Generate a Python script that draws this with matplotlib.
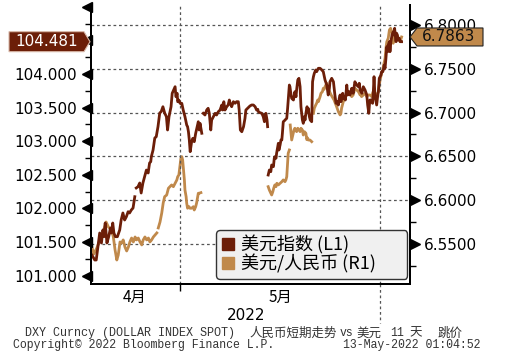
import numpy as np
import matplotlib
matplotlib.use("Agg")
import matplotlib.pyplot as plt
import matplotlib.transforms as mtransforms
from matplotlib.patches import Polygon
from matplotlib.lines import Line2D

nan = np.nan

# 美元指数 (DXY), x = 交易日位置
dxy_day = [0.03, 0.13, 0.18, 0.24, 0.30, 0.36, 0.41, 0.45, 0.49, 0.55, 0.61, 0.67, 0.70, 0.75, 0.79,
           0.84, 0.91, 0.99, 1.04, 1.10, 1.16, 1.22, 1.28, 1.33, 1.39, 1.45, 1.51, 1.53,
           1.56, 1.62, 1.68, 1.73, 1.79, 1.85, 1.91, 1.97, 2.02, 2.06, 2.08, 2.14, 2.20, 2.25, 2.31,
           2.37, 2.42, 2.48, 2.54, 2.60, 2.64, 2.69, 2.76, 2.80, 2.85, 2.90, 2.93, 2.97, 2.99, 3.03,
           3.07, 3.13, 3.18, 3.24, 3.30, 3.33, 3.36, 3.39, 3.42, 3.47, 3.51, 3.56, 3.61, 3.66, 3.70,
           3.73, 3.76, 3.79, 3.82, 3.84,
           3.87, 3.93, 3.99, 4.04, 4.08, 4.13, 4.16, 4.22, 4.28, 4.33, 4.39, 4.45, 4.51, 4.54, 4.58,
           4.62, 4.68, 4.73, 4.77, 4.80, 4.85, 4.91, 4.97, 5.02, 5.08, 5.11, 5.15, 5.20, 5.26, 5.29,
           5.31, 5.34, 5.40, 5.48, 5.54, 5.60, 5.66, 5.71, 5.75, 5.77, 5.83, 5.89, 5.94, 5.98, 6.00,
           6.03, 6.07, 6.09, 6.10,
           6.11, 6.15, 6.20, 6.23, 6.29, 6.32, 6.34, 6.38, 6.40, 6.44, 6.46, 6.48, 6.52, 6.55, 6.58,
           6.60, 6.63, 6.67, 6.69, 6.75, 6.78, 6.80, 6.84, 6.86, 6.89, 6.92, 6.98, 7.01, 7.03, 7.07,
           7.09, 7.13, 7.17, 7.21, 7.24, 7.29, 7.32, 7.36, 7.38, 7.41, 7.45, 7.47, 7.49, 7.53, 7.56,
           7.61, 7.64, 7.67, 7.70, 7.75, 7.78, 7.84, 7.90, 7.96, 8.01, 8.07, 8.13, 8.18, 8.22, 8.24,
           8.30, 8.36, 8.41, 8.45, 8.49, 8.53, 8.56, 8.59, 8.62, 8.64, 8.68, 8.70, 8.73, 8.77, 8.82,
           8.85, 8.89, 8.93, 8.99, 9.04, 9.10, 9.16, 9.22, 9.25, 9.28, 9.31, 9.34, 9.39, 9.45, 9.51,
           9.54, 9.58, 9.60, 9.62, 9.66, 9.69, 9.71, 9.73, 9.76, 9.79, 9.83, 9.85, 9.89, 9.91, 9.94,
           9.97, 10.00, 10.02, 10.06, 10.08, 10.11, 10.14, 10.17, 10.20, 10.23, 10.25, 10.29, 10.31,
           10.34, 10.38, 10.42, 10.45, 10.47, 10.49, 10.52, 10.54, 10.56, 10.60, 10.63, 10.66, 10.71]
dxy_val = [101.307, 101.232, 101.232, 101.430, 101.634, 101.485, 101.679, 101.579, 101.783, 101.485,
           101.579, 101.708, 101.634, 101.783, 101.634, 101.579, 101.579, 101.679, 101.827, 101.932,
           101.827, 101.877, 101.951, 101.932, 101.976, 102.006, 102.174, nan,
           102.304, 102.323, 102.378, 102.229, 102.378, 102.472, 102.571, 102.527, 102.676, 102.695,
           102.769, 102.869, 103.048, 103.067, 103.216, 103.420, 103.439, 103.513, 103.420, 103.365,
           103.167, 103.365, 103.513, 103.713, 103.762, 103.811, 103.662, 103.713, 103.588, 103.613,
           103.564, 103.564, 103.464, 103.365, 103.241, 103.216, 103.141, 103.018, 102.844, 102.993,
           103.043, 102.993, 103.118, 103.216, 103.290, 103.167, 103.266, 103.192, 103.118, nan,
           103.415, 103.390, 103.464, 103.490, 103.415, 103.167, 103.315, 103.365, 103.415, 103.390,
           103.439, 103.464, 103.539, 103.464, 103.588, 103.464, 103.513, 103.539, 103.613, 103.564,
           103.513, 103.588, 103.564, 103.588, 103.588, 103.464, 103.167, 103.141, 103.216, 103.290,
           103.341, 103.464, 103.490, 103.524, 103.539, 103.539, 103.513, 103.464, 103.475, 103.439,
           103.424, 103.415, 103.365, 103.290, 103.390, 103.415, 103.315, 103.216, nan,
           102.497, 102.571, 102.546, 102.646, 102.621, 102.746, 102.769, 102.746, 102.820, 102.918,
           102.969, 102.869, 102.943, 103.018, 103.018, 103.118, 103.290, 103.305, 103.315, 103.341,
           103.490, 103.613, 103.836, 103.811, 103.713, 103.638, 103.613, 103.688, 103.737, 103.662,
           103.762, 103.911, 103.936, 103.811, 103.513, 103.315, 103.266, 103.365, 103.315, 103.415,
           103.513, 103.439, 103.490, 103.365, 103.315, 103.290, 103.885, 103.960, 104.010, 104.060,
           104.034, 104.085, 104.085, 104.060, 104.034, 103.911, 103.836, 103.688, 103.787, 103.885,
           103.936, 103.885, 103.688, 103.564, 103.588, 103.539, 103.638, 103.688, 103.588, 103.638,
           103.713, 103.638, 103.662, 103.613, 103.836, 103.688, 103.737, 103.688, 103.787, 103.713,
           103.885, 103.836, 103.811, 103.862, 103.762, 103.737, 103.713, 103.811, 103.762, 103.688,
           103.539, 103.415, 103.539, 103.613, 103.613, 103.588, 103.564, 103.688, 103.960, 103.688,
           103.588, 103.539, 103.688, 103.737, 103.936, 103.960, 103.985, 104.034, 104.034, 104.060,
           104.134, 104.085, 104.234, 104.406, 104.332, 104.432, 104.481, 104.332, 104.481, 104.580,
           104.629, 104.580, 104.680, 104.580, 104.481, 104.606, 104.580, 104.506, 104.531, 104.481,
           104.481]

# 美元/人民币 (USDCNY)
cny_day = [0.02, 0.10, 0.20, 0.31, 0.42, 0.52, 0.60, 0.71, 0.77, 0.83, 0.89, 0.94, 1.00, 1.06, 1.11,
           1.17, 1.23, 1.29, 1.34, 1.40, 1.46, 1.52, 1.57, 1.63, 1.69, 1.75, 1.80, 1.86, 1.92, 1.98,
           2.03, 2.09, 2.15, 2.21, 2.27, 2.30,
           2.32, 2.38, 2.44, 2.49, 2.54, 2.61, 2.67, 2.72, 2.78, 2.84, 2.90, 2.96, 2.99, 3.03, 3.07,
           3.10, 3.13, 3.16, 3.18, 3.22, 3.24, 3.28, 3.30, 3.33, 3.38, 3.41, 3.47, 3.53, 3.56, 3.61,
           3.64, 3.68, 3.70, 3.73, 3.79, 3.80,
           6.11, 6.15, 6.20, 6.23, 6.27, 6.30, 6.34, 6.38, 6.41, 6.46, 6.52, 6.58, 6.63, 6.69, 6.72,
           6.75, 6.77, 6.80, 6.84, 6.85,
           6.87, 6.92, 6.96, 7.00, 7.03, 7.09, 7.13, 7.17, 7.21, 7.24, 7.29, 7.32, 7.36, 7.41, 7.44,
           7.47, 7.49, 7.55, 7.61, 7.64,
           7.67, 7.70, 7.75, 7.78, 7.82, 7.84, 7.90, 7.93, 7.98, 8.01, 8.04, 8.07, 8.13, 8.17, 8.28,
           8.38, 8.47, 8.53, 8.59, 8.62, 8.64, 8.70, 8.76, 8.82, 8.87, 8.93, 8.99, 9.04, 9.10, 9.16,
           9.22, 9.28, 9.31, 9.33, 9.39, 9.45, 9.51, 9.56, 9.62, 9.68, 9.73, 9.79, 9.85, 9.91, 9.94,
           9.97, 10.02, 10.06, 10.08, 10.14, 10.17, 10.20, 10.25, 10.29, 10.33, 10.37, 10.40, 10.42,
           10.45, 10.48, 10.52, 10.56, 10.60, 10.66, 10.71]
cny_val = [6.5477, 6.5386, 6.5454, 6.5546, 6.5637, 6.5751, 6.5694, 6.5660, 6.5580, 6.5432, 6.5317,
           6.5374, 6.5523, 6.5511, 6.5546, 6.5466, 6.5420, 6.5466, 6.5523, 6.5568, 6.5523, 6.5580,
           6.5546, 6.5568, 6.5523, 6.5489, 6.5546, 6.5580, 6.5546, 6.5568, 6.5523, 6.5546, 6.5580,
           6.5603, 6.5626, nan,
           6.5683, 6.5751, 6.5854, 6.5968, 6.6040, 6.6059, 6.6136, 6.6154, 6.6174, 6.6154, 6.6193,
           6.6231, 6.6268, 6.6288, 6.6402, 6.6478, 6.6497, 6.6459, 6.6382, 6.6231, 6.6116, 6.6040,
           6.5965, 6.5908, 6.5926, 6.5908, 6.5908, 6.5926, 6.5888, 6.5926, 6.5965, 6.6040, 6.6079,
           6.6079, 6.6086, nan,
           6.6154, 6.6116, 6.6079, 6.6059, 6.6097, 6.6136, 6.6174, 6.6154, 6.6193, 6.6174, 6.6193,
           6.6211, 6.6231, 6.6211, 6.6231, 6.6268, 6.6382, 6.6535, 6.6573, nan,
           6.6858, 6.6687, 6.6744, 6.6801, 6.6821, 6.6782, 6.6821, 6.6801, 6.6782, 6.6821, 6.6801,
           6.6744, 6.6782, 6.6764, 6.6692, 6.6710, 6.6687, 6.6687, 6.6668, nan,
           6.6992, 6.7049, 6.7087, 6.7106, 6.7144, 6.7124, 6.7182, 6.7220, 6.7239, 6.7277, 6.7266,
           6.7296, 6.7334, 6.7281, 6.7201, 6.7144, 6.7067, 6.7010, 6.6973, 6.6992, 6.7049, 6.7124,
           6.7182, 6.7201, 6.7239, 6.7220, 6.7182, 6.7201, 6.7277, 6.7258, 6.7239, 6.7201, 6.7220,
           6.7182, 6.7201, 6.7220, 6.7182, 6.7201, 6.7201, 6.7182, 6.7239, 6.7163, 6.7201, 6.7239,
           6.7315, 6.7372, 6.7449, 6.7486, 6.7524, 6.7620, 6.7734, 6.7809, 6.7848, 6.7943, 6.7962,
           6.7924, 6.7848, 6.7791, 6.7886, 6.7924, 6.7866, 6.7886, 6.7848, 6.7809, 6.7863]

dxy_last = 104.481
cny_last = 6.7863

left_ticks = [101.0, 101.5, 102.0, 102.5, 103.0, 103.5, 104.0, 104.5, 105.0]
left_labels = ["101.000", "101.500", "102.000", "102.500", "103.000", "103.500", "104.000", "104.500", ""]
left_minor = [101.25, 101.75, 102.25, 102.75, 103.25, 103.75, 104.25, 104.75]
right_ticks = [6.55, 6.60, 6.65, 6.70, 6.75, 6.80]
right_labels = ["6.5500", "6.6000", "6.6500", "6.7000", "6.7500", "6.8000"]
right_minor = [6.525, 6.575, 6.625, 6.675, 6.725, 6.775]
month_pos = [1.52, 6.52]
month_labels = ["4月", "5月"]
divider_pos = [3.07, 9.97]

DARK = "#6c1e08"
LIGHT = "#c0894b"
CJK = ["Noto Sans CJK SC", "DejaVu Sans"]

W, H = 506, 360
fig = plt.figure(figsize=(W / 100, H / 100), dpi=100)
ax = fig.add_axes([91 / W, 1 - 284 / H, 319 / W, 279 / H])
ax2 = ax.twinx()
ax.set_zorder(ax2.get_zorder() + 1)
ax.patch.set_visible(False)

ax.set_xlim(0, 11)
ax.set_ylim(100.875, 105.027)
ax2.set_ylim(6.5043, 6.8228)

# 网格
for v in right_ticks:
    ax2.axhline(v, color="#555555", lw=0.9, ls=(0, (2.2, 2.2)), zorder=0)
for d in divider_pos:
    ax.axvline(d, color="#555555", lw=0.9, ls=(0, (2.2, 2.2)), zorder=0)

ax2.plot(cny_day, cny_val, color=LIGHT, lw=2.0, solid_joinstyle="round")
ax.plot(dxy_day, dxy_val, color=DARK, lw=2.0, solid_joinstyle="round")

# 坐标轴
for a in (ax, ax2):
    a.spines["top"].set_visible(False)
    for s in ("left", "right", "bottom"):
        a.spines[s].set_linewidth(1.4)
        a.spines[s].set_color("black")

ax.set_yticks(left_ticks)
ax.set_yticklabels(left_labels)
ax.set_yticks(left_minor, minor=True)
ax.tick_params(axis="y", which="major", length=0, pad=10, labelsize=11)
ax.tick_params(axis="y", which="minor", length=4, width=1, direction="out")
ax2.set_yticks(right_ticks)
ax2.set_yticklabels(right_labels)
ax2.set_yticks(right_minor, minor=True)
ax2.tick_params(axis="y", which="major", length=0, pad=10, labelsize=11)
ax2.tick_params(axis="y", which="minor", length=4, width=1, direction="out")
ax.set_xticks([divider_pos[0]])
ax.set_xticklabels([""])
ax.tick_params(axis="x", length=5, width=1)

# 三角形主刻度
ax.plot(np.full(len(left_ticks), -0.014), left_ticks, transform=ax.get_yaxis_transform(),
        ls="none", marker="<", ms=7, color="black", clip_on=False)
ax2.plot(np.full(len(right_ticks), 1.016), right_ticks, transform=ax2.get_yaxis_transform(),
         ls="none", marker=">", ms=7, color="black", clip_on=False)

# 月份与年份
bt = mtransforms.blended_transform_factory(ax.transData, ax.transAxes)
for p, lab in zip(month_pos, month_labels):
    ax.text(p, -0.047, lab, transform=bt, ha="center", va="center", fontsize=11, family=CJK)
ax.text(0.485, -0.112, "2022", transform=ax.transAxes, ha="center", va="center", fontsize=11)
ax.plot([divider_pos[1], divider_pos[1]], [0, -0.14], transform=bt, color="#555555",
        lw=0.9, ls=(0, (2.2, 2.2)), clip_on=False)

# 图例
handles = [Line2D([], [], ls="none", marker="s", ms=9, color=DARK),
           Line2D([], [], ls="none", marker="s", ms=9, color=LIGHT)]
leg = ax.legend(handles, ["美元指数 (L1)", "美元/人民币 (R1)"], loc="lower left",
                bbox_to_anchor=(0.392, 0.018, 0.599, 0.19), mode="expand",
                prop={"family": CJK, "size": 13}, handlelength=0.7, handletextpad=0.4,
                labelspacing=0.0, borderpad=0.3, borderaxespad=0, fancybox=True, framealpha=1)
leg.get_frame().set_facecolor("#f0f0f0")
leg.get_frame().set_edgecolor("#333333")
leg.get_frame().set_linewidth(1.0)

# 最新值标签
fig.canvas.draw()
yl = ax.transData.transform((0, dxy_last))[1]
yr = ax2.transData.transform((0, cny_last))[1]
left_box = [(9, yl - 10), (84, yl - 10), (90, yl), (84, yl + 10), (9, yl + 10)]
right_box = [(410, yr), (417, yr - 9), (483, yr - 9), (483, yr + 9), (417, yr + 9)]
fig.add_artist(Polygon([(x / W, y / H) for x, y in left_box], closed=True, transform=fig.transFigure,
                       facecolor=DARK, edgecolor="#d9b8a8", lw=0.8, zorder=5))
fig.add_artist(Polygon([(x / W, y / H) for x, y in right_box], closed=True, transform=fig.transFigure,
                       facecolor=LIGHT, edgecolor="#222222", lw=0.8, zorder=5))
fig.text(47 / W, yl / H, f"{dxy_last:.3f}", color="white", fontsize=11, ha="center", va="center", zorder=6)
fig.text(449 / W, yr / H, f"{cny_last:.4f}", color="#111111", fontsize=11, ha="center", va="center", zorder=6)

# 底部说明
MONO = ["Liberation Mono", "Noto Sans CJK SC"]
foot = [(25, "DXY Curncy (DOLLAR INDEX SPOT)", MONO, 8.5),
        (249, "人民币短期走势", CJK, 9),
        (340, "vs", MONO, 8.3),
        (356, "美元", CJK, 9),
        (390, "11", MONO, 8.3),
        (409, "天", CJK, 9),
        (438, "跳价", CJK, 9)]
for x, s, fam, fs in foot:
    fig.text(x / W, 1 - 333 / H, s, ha="left", va="center", fontsize=fs, family=fam, color="#333333")
fig.text(0.487, 1 - 345 / H, "Copyright© 2022 Bloomberg Finance L.P.          13-May-2022 01:04:52",
         ha="center", va="center", fontsize=8.3, family=MONO, color="#333333")

fig.savefig("out.png", dpi=100)
